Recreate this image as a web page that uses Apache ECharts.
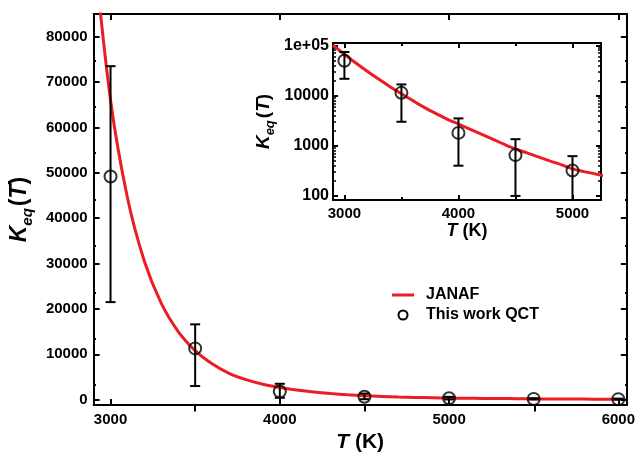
<!DOCTYPE html>
<html>
<head>
<meta charset="utf-8">
<script src="https://cdn.jsdelivr.net/npm/echarts@6/dist/echarts.min.js"></script>
<style>
html,body{margin:0;padding:0;background:#fff;}
#c{width:638px;height:458px;}
</style>
</head>
<body>
<div id="c"></div>
<script>
// JANAF equilibrium constant curve
const janafT = [2900,3000,3100,3200,3300,3400,3500,3600,3700,3800,3900,4000,4100,4200,4300,4400,4500,4600,4700,4800,4900,5000,5100,5200,5300,5400,5500,5600,5700,5800,5900,6000];
const janafK = [100000,66000,44500,30500,21200,15000,10800,7900,5800,4400,3400,2700,2150,1700,1350,1070,860,720,600,500,420,345,305,275,245,210,180,155,135,120,105,95];
// This work QCT points with error bars
const qctT = [3000,3500,4000,4500,5000,5500,6000];
const qctK = [49200,11300,1800,650,320,170,110];
const qctLow = [21500,3000,400,100,40,40,20];
const qctHigh = [73500,16600,3500,1350,620,300,220];
// Tick values
const mainXTicks = [3000,4000,5000,6000];
const mainXMinor = [3500,4500,5500];
const mainYTicks = [0,10000,20000,30000,40000,50000,60000,70000,80000];
const mainYMinor = [5000,15000,25000,35000,45000,55000,65000,75000];
const insetXTicks = [3000,4000,5000];
const insetXMinor = [3500,4500];
const insetYTicks = [100,1000,10000,100000];
const insetYMinor = [200,300,400,500,600,700,800,900,2000,3000,4000,5000,6000,7000,8000,9000,20000,30000,40000,50000,60000,70000,80000,90000];

const FONT = 'Liberation Sans';
const RED = '#ec1c24';
const BLK = '#000';

const janafData = janafT.map((t,i)=>[t, janafK[i]]);
const qctData = qctT.map((t,i)=>[t, qctK[i]]);
const errData = qctT.map((t,i)=>[t, qctLow[i], qctHigh[i]]);

function errRender(params, api){
  const x = api.value(0), lo = api.value(1), hi = api.value(2);
  const a = api.coord([x, lo]), b = api.coord([x, hi]);
  const hw = 5;
  const st = {stroke: BLK, lineWidth: 2};
  return {type:'group', children:[
    {type:'line', shape:{x1:a[0], y1:a[1], x2:b[0], y2:b[1]}, style:st},
    {type:'line', shape:{x1:a[0]-hw, y1:a[1], x2:a[0]+hw, y2:a[1]}, style:st},
    {type:'line', shape:{x1:b[0]-hw, y1:b[1], x2:b[0]+hw, y2:b[1]}, style:st}
  ]};
}

function axisBase(extra){
  return Object.assign({
    splitLine:{show:false},
    axisLine:{show:true, onZero:false, lineStyle:{color:BLK, width:2}},
    axisTick:{show:true, inside:true, length:6, lineStyle:{color:BLK, width:2}},
    axisLabel:{show:false}
  }, extra);
}

const labelStyle = {color:BLK, fontFamily:FONT, fontWeight:'bold', fontSize:15};
const insetYLabelStyle = {color:BLK, fontFamily:FONT, fontWeight:'bold', fontSize:16};

const mainGrid = {left:93, top:14, width:535, height:400};
const insetGrid = {left:333, top:43, width:268, height:157};

const xAxes = [
  axisBase({gridIndex:0, type:'value', position:'bottom', min:2900, max:6050,
    axisTick:{show:true, inside:true, length:6, customValues:mainXTicks, lineStyle:{color:BLK,width:2}},
    axisLabel:Object.assign({show:true, margin:7, customValues:mainXTicks, formatter:v=>String(v)}, labelStyle),
    name:'{t|T}{n| (K)}', nameLocation:'middle', nameGap:23,
    nameTextStyle:{rich:{
      t:{fontFamily:FONT, fontWeight:'bold', fontStyle:'italic', fontSize:21, color:BLK},
      n:{fontFamily:FONT, fontWeight:'bold', fontSize:21, color:BLK}}}
  }),
  axisBase({gridIndex:0, type:'value', position:'top', min:2900, max:6050,
    axisTick:{show:true, inside:true, length:6, customValues:mainXTicks, lineStyle:{color:BLK,width:2}}}),
  axisBase({gridIndex:1, type:'value', position:'bottom', min:2900, max:6050, axisLine:{show:false},
    axisTick:{show:true, inside:true, length:3, customValues:mainXMinor, lineStyle:{color:BLK,width:2}}}),
  axisBase({gridIndex:1, type:'value', position:'top', min:2900, max:6050, axisLine:{show:false},
    axisTick:{show:true, inside:true, length:3, customValues:mainXMinor, lineStyle:{color:BLK,width:2}}}),
  axisBase({gridIndex:2, type:'value', position:'bottom', min:2900, max:5250,
    axisTick:{show:true, inside:true, length:5, customValues:insetXTicks, lineStyle:{color:BLK,width:2}},
    axisLabel:Object.assign({show:true, margin:6, customValues:insetXTicks, formatter:v=>String(v)}, labelStyle),
    name:'{t|T}{n| (K)}', nameLocation:'middle', nameGap:22,
    nameTextStyle:{rich:{
      t:{fontFamily:FONT, fontWeight:'bold', fontStyle:'italic', fontSize:18, color:BLK},
      n:{fontFamily:FONT, fontWeight:'bold', fontSize:18, color:BLK}}}
  }),
  axisBase({gridIndex:2, type:'value', position:'top', min:2900, max:5250,
    axisTick:{show:true, inside:true, length:5, customValues:insetXTicks, lineStyle:{color:BLK,width:2}}}),
  axisBase({gridIndex:3, type:'value', position:'bottom', min:2900, max:5250, axisLine:{show:false},
    axisTick:{show:true, inside:true, length:3, customValues:insetXMinor, lineStyle:{color:BLK,width:2}}}),
  axisBase({gridIndex:3, type:'value', position:'top', min:2900, max:5250, axisLine:{show:false},
    axisTick:{show:true, inside:true, length:3, customValues:insetXMinor, lineStyle:{color:BLK,width:2}}})
];

const yNameRich = (big, small) => ({
  k:{fontFamily:FONT, fontWeight:'bold', fontStyle:'italic', fontSize:big, color:BLK, verticalAlign:'middle'},
  s:{fontFamily:FONT, fontWeight:'bold', fontStyle:'italic', fontSize:small, color:BLK, verticalAlign:'bottom', padding:[0,2,-4,0]},
  p:{fontFamily:FONT, fontWeight:'bold', fontSize:big, color:BLK, verticalAlign:'middle'},
  t:{fontFamily:FONT, fontWeight:'bold', fontStyle:'italic', fontSize:big, color:BLK, verticalAlign:'middle'}
});

const yAxes = [
  axisBase({gridIndex:0, type:'value', position:'left', min:-1200, max:85000,
    axisTick:{show:true, inside:true, length:6, customValues:mainYTicks, lineStyle:{color:BLK,width:2}},
    axisLabel:Object.assign({show:true, margin:6, customValues:mainYTicks, formatter:v=>String(v)}, labelStyle),
    name:'{k|K}{s|eq}{p|(}{t|T}{p|)}', nameLocation:'middle', nameGap:58, nameRotate:90,
    nameTextStyle:{rich:yNameRich(23,15)}
  }),
  axisBase({gridIndex:0, type:'value', position:'right', min:-1200, max:85000,
    axisTick:{show:true, inside:true, length:6, customValues:mainYTicks, lineStyle:{color:BLK,width:2}}}),
  axisBase({gridIndex:1, type:'value', position:'left', min:-1200, max:85000, axisLine:{show:false},
    axisTick:{show:true, inside:true, length:3, customValues:mainYMinor, lineStyle:{color:BLK,width:2}}}),
  axisBase({gridIndex:1, type:'value', position:'right', min:-1200, max:85000, axisLine:{show:false},
    axisTick:{show:true, inside:true, length:3, customValues:mainYMinor, lineStyle:{color:BLK,width:2}}}),
  axisBase({gridIndex:2, type:'log', logBase:10, position:'left', min:83, max:111000,
    axisTick:{show:true, inside:true, length:5, customValues:insetYTicks, lineStyle:{color:BLK,width:2}},
    axisLabel:Object.assign({show:true, margin:4, customValues:insetYTicks,
      formatter:v=> (Math.round(v)===100000 ? '1e+05' : String(Math.round(v)))}, insetYLabelStyle),
    name:'{k|K}{s|eq}{p|(}{t|T}{p|)}', nameLocation:'middle', nameGap:60, nameRotate:90,
    nameTextStyle:{rich:yNameRich(19,13)}
  }),
  axisBase({gridIndex:2, type:'log', logBase:10, position:'right', min:83, max:111000,
    axisTick:{show:true, inside:true, length:5, customValues:insetYTicks, lineStyle:{color:BLK,width:2}}}),
  axisBase({gridIndex:3, type:'log', logBase:10, position:'left', min:83, max:111000, axisLine:{show:false},
    axisTick:{show:true, inside:true, length:3, customValues:insetYMinor, lineStyle:{color:BLK,width:1.5}}}),
  axisBase({gridIndex:3, type:'log', logBase:10, position:'right', min:83, max:111000, axisLine:{show:false},
    axisTick:{show:true, inside:true, length:3, customValues:insetYMinor, lineStyle:{color:BLK,width:1.5}}})
];

const circleStyle = {color:'rgba(0,0,0,0)', borderColor:BLK, borderWidth:2};

const option = {
  animation:false,
  backgroundColor:'#fff',
  grid:[
    Object.assign({}, mainGrid),
    Object.assign({}, mainGrid),
    Object.assign({}, insetGrid),
    Object.assign({}, insetGrid)
  ],
  xAxis: xAxes,
  yAxis: yAxes,
  legend:{
    orient:'vertical', left:387, top:282, itemGap:4, itemWidth:22, itemHeight:9,
    textStyle:{fontFamily:FONT, fontWeight:'bold', fontSize:16, color:BLK, padding:[0,0,0,7]},
    data:[
      {name:'JANAF', icon:'path://M0,0 L22,0 L22,3 L0,3 Z', itemStyle:{color:RED}},
      {name:'This work QCT', icon:'circle', itemStyle:circleStyle}
    ]
  },
  series:[
    {name:'JANAF', type:'line', xAxisIndex:0, yAxisIndex:0, data:janafData, showSymbol:false, symbol:'none',
      smooth:0.3, lineStyle:{color:RED, width:3}, itemStyle:{color:RED}, clip:true, z:2},
    {name:'This work QCT', type:'custom', xAxisIndex:0, yAxisIndex:0, data:errData, renderItem:errRender, clip:true, z:3},
    {name:'This work QCT', type:'scatter', xAxisIndex:0, yAxisIndex:0, data:qctData, symbol:'circle', symbolSize:12,
      itemStyle:circleStyle, clip:true, z:4},
    {name:'JANAF', type:'line', xAxisIndex:4, yAxisIndex:4, data:janafData, showSymbol:false, symbol:'none',
      smooth:0.3, lineStyle:{color:RED, width:3}, itemStyle:{color:RED}, clip:true, z:2},
    {name:'This work QCT', type:'custom', xAxisIndex:4, yAxisIndex:4, data:errData, renderItem:errRender, clip:true, z:3},
    {name:'This work QCT', type:'scatter', xAxisIndex:4, yAxisIndex:4, data:qctData, symbol:'circle', symbolSize:12,
      itemStyle:circleStyle, clip:true, z:4}
  ]
};

const chart = echarts.init(document.getElementById('c'), null, {renderer:'canvas'});
chart.setOption(option);
</script>
</body>
</html>
